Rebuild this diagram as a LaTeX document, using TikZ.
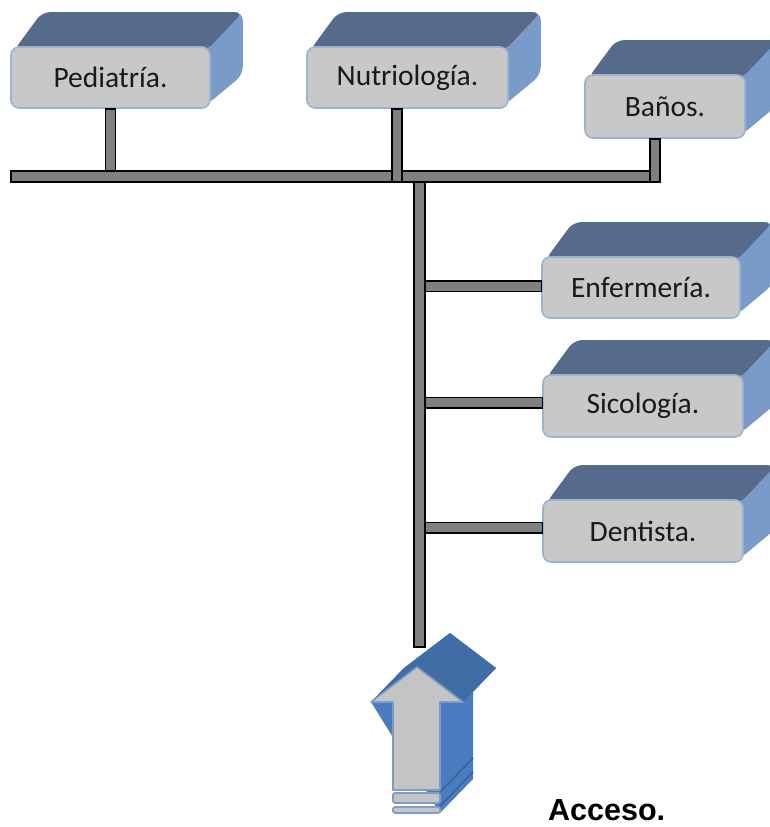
\documentclass[tikz,border=0pt]{standalone}
\usepackage{fontspec}
\newfontfamily\boxfont{Carlito}
\newfontfamily\accfont{Liberation Sans}
\usetikzlibrary{calc,backgrounds}
\definecolor{topface}{HTML}{566B8C}
\definecolor{sideface}{HTML}{7A9BC8}
\definecolor{frontface}{HTML}{C8C8C8}
\definecolor{frontborder}{HTML}{9DB1D1}
\definecolor{conngray}{HTML}{808080}
\definecolor{arrtop}{HTML}{416DA6}
\definecolor{arrside}{HTML}{4A7CBF}
\definecolor{arrdark}{HTML}{3A6297}
\definecolor{arrfill}{HTML}{C4C4C4}
\definecolor{arrborder}{HTML}{7F9CC5}
\tikzset{
  box/.style={draw=frontborder, line width=1.6pt, fill=frontface, rounded corners=8pt,
    minimum height=61pt, inner sep=0pt, font=\boxfont\fontsize{29.5}{34}\selectfont, text=black!90},
  conn/.style={draw=black, fill=conngray, line width=1.4pt},
  arrfront/.style={draw=arrborder, fill=arrfill, line width=1.6pt, line join=round}
}
\begin{document}
\begin{tikzpicture}[x=1pt,y=-1pt]
\useasboundingbox (0,0) rectangle (770,827);
\clip (0,0) rectangle (770,827);

% boxes (front faces)
\node[box, minimum width=199pt] (ped) at (110.5,77.5) {Pediatría.};
\node[box, minimum width=201pt] (nut) at (407.5,77.5) {Nutriología.};
\node[box, minimum width=160pt, minimum height=63pt] (ban) at (665,106.5) {Baños.};
\node[box, minimum width=198pt] (enf) at (641,287.5) {Enfermería.};
\node[box, minimum width=200pt, minimum height=62pt] (sic) at (643,406) {Sicología.};
\node[box, minimum width=200pt, minimum height=62pt] (den) at (643,531) {Dentista.};

% 3D faces behind
\begin{scope}[on background layer]
\foreach \n in {ped,nut,ban,enf,sic,den}{
  \fill[sideface, rounded corners=8pt] ($(\n.north west)+(4,4)$) -- ($(\n.north west)+(32,-34)$)
     -- ($(\n.north east)+(32,-34)$) -- ($(\n.south east)+(32,-34)$) -- ($(\n.south east)+(-4,-4)$) -- cycle;
  \fill[topface, rounded corners=8pt] ($(\n.north west)+(4,4)$) -- ($(\n.north west)+(32,-34)$)
     -- ($(\n.north east)+(32,-34)$) -- ($(\n.north east)+(-4,4)$) -- cycle;
}
\end{scope}

% horizontal bus and stems
\coordinate (barNW) at (11,171);
\coordinate (barSE) at (660,182);
\draw[conn] ($(ped.south)+(-5,0)$) rectangle ($(ped.south |- barNW)+(5,1)$);
\draw[conn] (barNW) rectangle (barSE);
\draw[conn] ($(nut.south)+(-15.5,0)$) rectangle ($(nut.south |- barSE)+(-5.5,0)$);
\draw[conn] ($(ban.south)+(-15,0)$) rectangle ($(ban.south |- barSE)+(-5,0)$);

% trunk and branches
\coordinate (trunkTop) at (414,182);
\coordinate (trunkBot) at (425,647);
\draw[conn] ($(trunkBot |- enf.west)+(-2,-6.5)$) rectangle ($(enf.west)+(0,4)$);
\draw[conn] ($(trunkBot |- sic.west)+(-2,-8.5)$) rectangle ($(sic.west)+(0,2)$);
\draw[conn] ($(trunkBot |- den.west)+(-2,-8.5)$) rectangle ($(den.west)+(0,2)$);
\draw[conn] (trunkTop) rectangle (trunkBot);

% access arrow
\fill[arrside] (371,702) -- (404,668) -- (450,633) -- (496,668) -- (473,692) -- (473,779) -- (440,813) -- cycle;
\fill[arrtop] (371,702) -- (404,668) -- (450,633) -- (496,668) -- (463,702) -- (417,667) -- cycle;
\draw[arrdark, line width=1.5pt] (440,792) -- (473,758);
\draw[arrdark, line width=1.5pt] (440,806) -- (473,772);
\draw[arrfront] (417,667) -- (463,702) -- (440,702) -- (440,790) -- (393,790) -- (393,702) -- (371,702) -- cycle;
\draw[arrfront, rounded corners=1.5pt] (393,793) rectangle (440,803);
\draw[arrfront, rounded corners=1.5pt] (393,807) rectangle (440,813);

\node[anchor=base west, inner sep=0pt, font=\accfont\bfseries\fontsize{30.5}{36}\selectfont] (acc) at (548,820) {Acceso.};
\end{tikzpicture}
\end{document}
